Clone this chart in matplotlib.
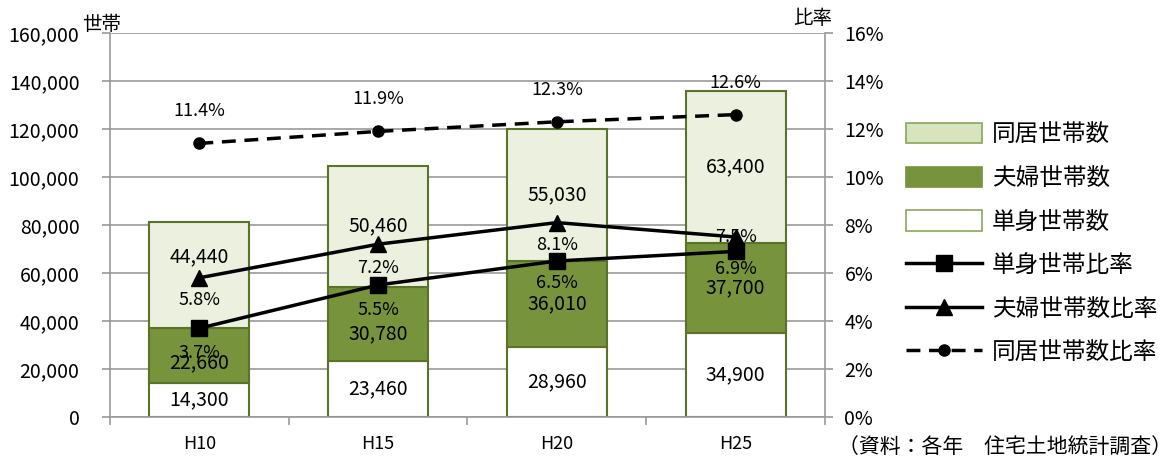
import numpy as np
import matplotlib
matplotlib.use("Agg")
import matplotlib.pyplot as plt
import matplotlib.patches as mpatches
from matplotlib.ticker import FuncFormatter, FixedLocator

plt.rcParams['font.family'] = ['Noto Sans CJK JP', 'DejaVu Sans']

# ---------------------------------------------------------
# data
# ---------------------------------------------------------
years = ["H10", "H15", "H20", "H25"]
single_hh = [14300, 23460, 28960, 34900]      # 単身世帯数
couple_hh = [22660, 30780, 36010, 37700]      # 夫婦世帯数
cohabit_hh = [44440, 50460, 55030, 63400]     # 同居世帯数
single_pct = [3.7, 5.5, 6.5, 6.9]             # 単身世帯比率
couple_pct = [5.8, 7.2, 8.1, 7.5]             # 夫婦世帯数比率
cohabit_pct = [11.4, 11.9, 12.3, 12.6]        # 同居世帯数比率

# label nudges (points)
single_off = [-18, -18, -16, -13]
couple_off = [-16, -17, -16, 0]
cohabit_off = [23, 23, 23, 23]
bar_nudge = {(2, 0): 13, (1, 1): -7, (1, 0): -5}

GRAY = "#9a9a9a"
EDGE = "#5b7329"
DARK = "#77933c"
LIGHT = "#ebf1de"
LIGHT_LEG = "#d7e4bd"

fig = plt.figure(figsize=(11.74, 4.61), dpi=100)
ax = fig.add_axes([110 / 1174, 1 - 417 / 461, 715 / 1174, 384 / 461])
ax2 = ax.twinx()

x = np.arange(len(years))
w = 0.56
ax.bar(x, single_hh, w, color="white", edgecolor=EDGE, linewidth=1.5, zorder=2)
bottom2 = np.array(single_hh)
ax.bar(x, couple_hh, w, bottom=bottom2, color=DARK, edgecolor=EDGE, linewidth=1.5, zorder=2)
bottom3 = bottom2 + np.array(couple_hh)
ax.bar(x, cohabit_hh, w, bottom=bottom3, color=LIGHT, edgecolor=EDGE, linewidth=1.5, zorder=2)

# segment labels
for k, (vals, bots) in enumerate([(single_hh, np.zeros(4)), (couple_hh, bottom2), (cohabit_hh, bottom3)]):
    for i, v in enumerate(vals):
        ax.annotate(f"{v:,}", (x[i], bots[i] + v / 2), xytext=(0, bar_nudge.get((k, i), 0)),
                    textcoords="offset points", ha="center", va="center",
                    fontsize=14, zorder=5)

ax.set_xlim(-0.5, 3.5)
ax.set_ylim(0, 160000)
ax.yaxis.set_major_locator(FixedLocator(np.arange(0, 160001, 20000)))
ax.yaxis.set_major_formatter(FuncFormatter(lambda v, p: f"{int(v):,}"))
ax.grid(axis="y", color=GRAY, linewidth=1.2, zorder=0)
ax.set_axisbelow(True)
ax.set_xticks(x)
ax.set_xticklabels(years, fontsize=13)
ax.set_xticks([-0.5, 0.5, 1.5, 2.5, 3.5], minor=True)
ax.tick_params(axis="x", which="major", length=0, pad=13)
ax.tick_params(axis="x", which="minor", length=6, color=GRAY, width=1.2)
ax.tick_params(axis="y", labelsize=14, length=6, color=GRAY, width=1.2, pad=16)
for s in ["top", "right"]:
    ax.spines[s].set_visible(False)
ax.spines["left"].set_color(GRAY)
ax.spines["bottom"].set_color(GRAY)
ax.spines["left"].set_linewidth(1.2)
ax.spines["bottom"].set_linewidth(1.2)

# ratio lines
l1, = ax2.plot(x, single_pct, color="black", lw=2.5, marker="s", ms=11, zorder=4)
l2, = ax2.plot(x, couple_pct, color="black", lw=2.5, marker="^", ms=11, zorder=4)
l3, = ax2.plot(x, cohabit_pct, color="black", lw=2.5, ls=(0, (4, 2.5)), marker="o", ms=8, zorder=4)
for vals, offs in [(single_pct, single_off), (couple_pct, couple_off), (cohabit_pct, cohabit_off)]:
    for i, v in enumerate(vals):
        ax2.annotate(f"{v}%", (x[i], v), xytext=(0, offs[i]), textcoords="offset points",
                     ha="center", va="center", fontsize=13, zorder=6)

ax2.set_ylim(0, 16)
ax2.yaxis.set_major_locator(FixedLocator(np.arange(0, 17, 2)))
ax2.yaxis.set_major_formatter(FuncFormatter(lambda v, p: f"{int(v)}%"))
ax2.tick_params(axis="y", labelsize=14, length=6, color=GRAY, width=1.2, pad=8)
for s in ["top", "left", "bottom"]:
    ax2.spines[s].set_visible(False)
ax2.spines["right"].set_color(GRAY)
ax2.spines["right"].set_linewidth(1.2)

# unit labels
fig.text(82 / 1174, 1 - 24 / 461, "世帯", fontsize=14, ha="left", va="center")
fig.text(793 / 1174, 1 - 18 / 461, "比率", fontsize=14, ha="left", va="center")

# legend
p3 = mpatches.Patch(facecolor=LIGHT_LEG, edgecolor="#8aa65a", linewidth=1.2)
p2 = mpatches.Patch(facecolor=DARK, edgecolor=DARK, linewidth=1.2)
p1 = mpatches.Patch(facecolor="white", edgecolor="#8aa65a", linewidth=1.2)
fig.legend([p3, p2, p1, l1, l2, l3],
           ["同居世帯数", "夫婦世帯数", "単身世帯数", "単身世帯比率", "夫婦世帯数比率", "同居世帯数比率"],
           loc="upper left", bbox_to_anchor=(906 / 1174, 1 - 123 / 461),
           frameon=False, fontsize=17, handlelength=3.2, handleheight=0.95,
           labelspacing=0.86, handletextpad=0.45, borderaxespad=0, borderpad=0)

fig.text(1172 / 1174, 1 - 447 / 461, "（資料：各年　住宅土地統計調査）",
         fontsize=15, ha="right", va="center")

fig.savefig("out.png", dpi=100)
